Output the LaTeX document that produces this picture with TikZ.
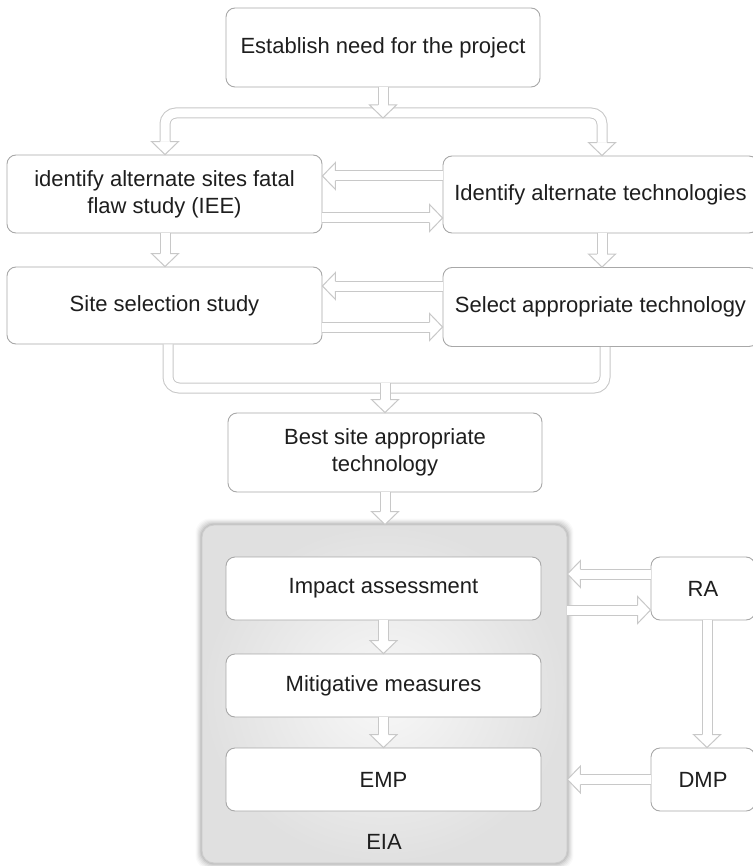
\documentclass[tikz,border=0pt]{standalone}
\usepackage{fontspec}
\setmainfont{Liberation Sans}
\usetikzlibrary{calc}
\pgfdeclarelayer{background}
\pgfsetlayers{background,main}

\definecolor{boxline}{HTML}{A8A8A8}
\definecolor{arrline}{HTML}{C8C8C8}
\definecolor{txt}{HTML}{1E1E1E}
\definecolor{grpin}{HTML}{F8F8F8}
\definecolor{grpout}{HTML}{E0E0E0}

\tikzset{
  stepbox/.style={draw=boxline, line width=0.9pt, fill=white, rounded corners=9pt,
    text=txt, font=\fontsize{22}{27}\selectfont, align=center, inner sep=0pt},
  groupbox/.style={draw=gray!40, line width=0.9pt, rounded corners=12pt,
    inner color=grpin, outer color=grpout, inner sep=0pt},
  grouplabel/.style={text=txt, font=\fontsize{22}{27}\selectfont, inner sep=0pt},
  shaft/.style={draw=arrline, line width=1pt, double=white, double distance=9pt},
  headst/.style={draw=arrline, line width=1pt, fill=white, line join=miter},
}

% open arrow head: #1 a point behind the head, #2 the tip
\newcommand{\bhead}[2]{%
  \coordinate (bh-b) at ($(#2)!13pt!(#1)$);
  \filldraw[headst] ($(bh-b)!5pt!90:(#2)$) -- ($(bh-b)!13.5pt!90:(#2)$) -- (#2)
    -- ($(bh-b)!13.5pt!-90:(#2)$) -- ($(bh-b)!5pt!-90:(#2)$);
}
% straight hollow block arrow from #1 to tip #2
\newcommand{\barrow}[2]{%
  \coordinate (ba-s) at (#1);
  \coordinate (ba-t) at (#2);
  \draw[shaft] (ba-s) -- ($(ba-t)!13pt!(ba-s)$);
  \bhead{ba-s}{ba-t}
}

\begin{document}
\begin{tikzpicture}[x=1pt, y=-1pt]
\useasboundingbox (0,0) rectangle (752,866);

% upper stage
\node[stepbox, minimum width=314pt, minimum height=79pt] (need) at (383,47.5) {Establish need for the project};
\node[stepbox, minimum width=315pt, minimum height=78pt] (sites) at (164.5,194) {identify alternate sites fatal\\flaw study (IEE)};
\node[stepbox, minimum width=315pt, minimum height=77pt] (tech) at (600.5,194.5) {Identify alternate technologies};
\node[stepbox, minimum width=315pt, minimum height=77pt] (sitesel) at (164.5,305.5) {Site selection study};
\node[stepbox, minimum width=315pt, minimum height=79pt] (techsel) at (600.5,307) {Select appropriate technology};
\node[stepbox, minimum width=314pt, minimum height=79pt] (best) at (385,452.5) {Best site appropriate\\technology};

% EIA group
\node[groupbox, minimum width=365pt, minimum height=338pt] (eia) at (384.5,694) {};
\begin{pgfonlayer}{background}
  \foreach \d/\o in {1/0.07,2/0.06,3/0.05,4/0.04,5/0.03,6/0.02}
    \fill[black, opacity=\o, rounded corners=14pt]
      ([shift={(-\d pt,\d pt)}]eia.north west) rectangle ([shift={(\d pt,-\d pt)}]eia.south east);
\end{pgfonlayer}
\node[stepbox, minimum width=315pt, minimum height=63pt] (impact) at (383.5,588.5) {Impact assessment};
\node[stepbox, minimum width=315pt, minimum height=63pt] (mitig) at (383.5,685.5) {Mitigative measures};
\node[stepbox, minimum width=315pt, minimum height=63pt] (emp) at (383.5,779.5) {EMP};
\node[grouplabel] (eialabel) at (384,842) {EIA};

\node[stepbox, minimum width=104pt, minimum height=63pt] (ra) at (703,588.5) {RA};
\node[stepbox, minimum width=104pt, minimum height=63pt] (dmp) at (703,779.5) {DMP};

% fork below the first step
\coordinate (fl) at (sites.north -| 165,0);
\coordinate (fr) at (tech.north -| 602,0);
\draw[shaft, rounded corners=11pt] ($(fl)+(0,-13)$) -- (165,113) -- (602,113) -- ($(fr)+(0,-13)$);
\bhead{165,113}{fl}
\bhead{602,113}{fr}
\barrow{need.south}{need.south |- 0,118}

% exchanges between the two columns
\barrow{tech.west |- 0,176}{sites.east |- 0,176}
\barrow{sites.east |- 0,218}{tech.west |- 0,218}
\barrow{sites.south -| 165,0}{sitesel.north -| 165,0}
\barrow{tech.south -| 602,0}{techsel.north -| 602,0}
\barrow{techsel.west |- 0,286}{sitesel.east |- 0,286}
\barrow{sitesel.east |- 0,327}{techsel.west |- 0,327}

% merge into the best option
\draw[shaft, rounded corners=11pt] (sitesel.south -| 168,0) -- (168,388) -- (605,388) -- (techsel.south -| 605,0);
\barrow{best.north |- 0,383}{best.north}
\barrow{best.south}{best.south |- eia.north}

% inside the EIA
\barrow{impact.south}{mitig.north}
\barrow{mitig.south}{emp.north}

% risk assessment and disaster management plan
\barrow{ra.west |- 0,574}{eia.east |- 0,574}
\barrow{eia.east |- 0,610}{ra.west |- 0,610}
\barrow{ra.south -| 707,0}{dmp.north -| 707,0}
\barrow{dmp.west}{eia.east |- dmp.west}
\end{tikzpicture}
\end{document}
